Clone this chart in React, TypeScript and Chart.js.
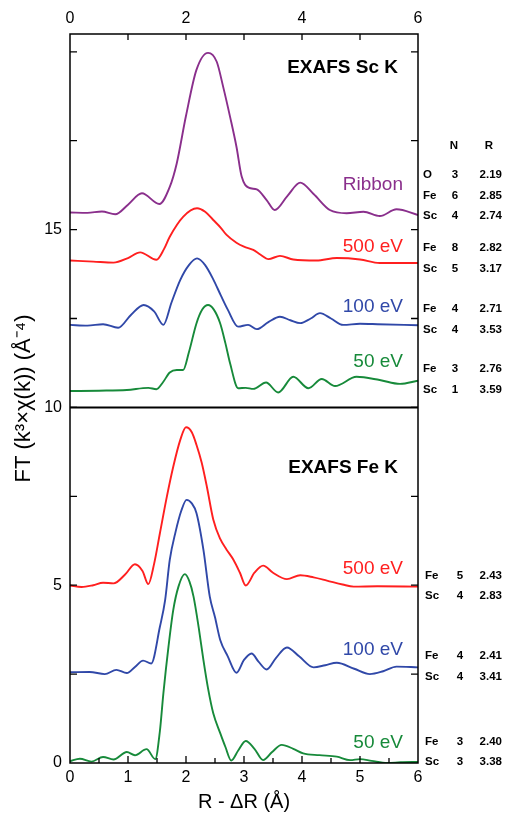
import React, { useEffect, useRef } from "react";
import { Chart, registerables } from "chart.js";

Chart.register(...registerables);

// ---------- data (R in Å, FT magnitude, vertically offset as in the figure) ----------
const scRibbonR = [0, 0.3, 0.55, 0.78, 1.0, 1.24, 1.54, 1.72, 1.84, 2.0, 2.18, 2.38, 2.53, 2.64, 2.76, 2.87, 2.96, 3.08, 3.22, 3.39, 3.53, 3.75, 3.97, 4.2, 4.48, 4.77, 5.06, 5.34, 5.63, 6.0];
const scRibbonFT = [15.48, 15.47, 15.51, 15.43, 15.7, 16.02, 15.72, 16.2, 16.86, 18.2, 19.49, 19.97, 19.72, 19.02, 18.17, 17.33, 16.49, 16.18, 16.13, 15.83, 15.55, 15.95, 16.32, 16.0, 15.55, 15.46, 15.5, 15.38, 15.57, 15.41];

const sc500R = [0, 0.4, 0.75, 1.0, 1.21, 1.49, 1.62, 1.72, 1.95, 2.19, 2.33, 2.47, 2.6, 2.7, 2.87, 3.0, 3.16, 3.28, 3.42, 3.62, 3.85, 4.25, 4.6, 5.0, 5.34, 6.0];
const sc500FT = [14.13, 14.1, 14.07, 14.2, 14.36, 14.15, 14.45, 14.8, 15.36, 15.6, 15.5, 15.27, 15.05, 14.85, 14.63, 14.52, 14.43, 14.3, 14.17, 14.26, 14.16, 14.13, 14.2, 14.16, 14.06, 14.06];

const sc100R = [0, 0.3, 0.57, 0.83, 1.05, 1.27, 1.45, 1.61, 1.75, 1.9, 2.05, 2.19, 2.33, 2.47, 2.6, 2.72, 2.9, 3.07, 3.22, 3.42, 3.62, 3.8, 3.97, 4.15, 4.31, 4.5, 4.71, 5.0, 5.3, 6.0];
const sc100FT = [12.32, 12.3, 12.34, 12.24, 12.6, 12.88, 12.7, 12.32, 12.95, 13.58, 14.0, 14.19, 14.0, 13.6, 13.15, 12.75, 12.27, 12.32, 12.2, 12.4, 12.55, 12.45, 12.37, 12.5, 12.65, 12.5, 12.32, 12.35, 12.34, 12.31];

const sc50R = [0, 0.5, 0.98, 1.35, 1.49, 1.6, 1.72, 1.84, 1.95, 2.05, 2.18, 2.28, 2.38, 2.48, 2.59, 2.68, 2.76, 2.9, 3.03, 3.16, 3.38, 3.59, 3.85, 4.11, 4.34, 4.57, 4.94, 5.34, 5.69, 6.0];
const sc50FT = [10.46, 10.47, 10.49, 10.55, 10.51, 10.7, 10.98, 11.05, 11.05, 11.55, 12.36, 12.75, 12.88, 12.75, 12.36, 11.8, 11.24, 10.54, 10.55, 10.52, 10.7, 10.42, 10.86, 10.54, 10.8, 10.6, 10.86, 10.77, 10.66, 10.75];

const fe500R = [0, 0.2, 0.4, 0.57, 0.75, 0.95, 1.12, 1.25, 1.35, 1.45, 1.55, 1.67, 1.78, 1.9, 2.0, 2.1, 2.18, 2.27, 2.36, 2.47, 2.59, 2.7, 2.82, 2.93, 3.03, 3.18, 3.33, 3.5, 3.74, 3.97, 4.2, 4.43, 4.7, 4.89, 5.3, 6.0];
const fe500FT = [4.99, 4.95, 5.0, 5.07, 5.05, 5.3, 5.59, 5.4, 5.03, 5.6, 6.46, 7.49, 8.33, 9.08, 9.44, 9.3, 8.95, 8.45, 7.77, 6.85, 6.3, 6.0, 5.71, 5.35, 4.99, 5.35, 5.55, 5.35, 5.17, 5.28, 5.22, 5.13, 5.02, 4.96, 4.97, 4.96];

const fe100R = [0, 0.34, 0.6, 0.8, 0.98, 1.12, 1.26, 1.4, 1.55, 1.64, 1.72, 1.82, 1.92, 2.01, 2.1, 2.18, 2.3, 2.41, 2.5, 2.59, 2.72, 2.87, 3.0, 3.13, 3.25, 3.39, 3.55, 3.74, 3.95, 4.2, 4.4, 4.6, 4.9, 5.17, 5.4, 5.63, 6.0];
const fe100FT = [2.55, 2.56, 2.5, 2.62, 2.53, 2.7, 2.88, 2.8, 3.83, 4.58, 5.71, 6.5, 7.1, 7.4, 7.3, 7.03, 6.0, 4.68, 4.1, 3.46, 3.0, 2.54, 2.9, 3.08, 2.85, 2.63, 2.95, 3.25, 3.0, 2.69, 2.75, 2.82, 2.65, 2.5, 2.58, 2.71, 2.69];

const fe50R = [0, 0.17, 0.37, 0.57, 0.75, 0.98, 1.12, 1.32, 1.47, 1.55, 1.61, 1.7, 1.78, 1.87, 1.98, 2.06, 2.13, 2.22, 2.3, 2.38, 2.47, 2.59, 2.68, 2.78, 2.9, 3.03, 3.18, 3.33, 3.48, 3.65, 3.85, 4.02, 4.3, 4.6, 4.83, 5.0, 5.2, 5.47, 5.7, 6.0];
const fe50FT = [0.05, 0.12, 0.04, 0.17, 0.1, 0.31, 0.22, 0.39, 0.11, 0.9, 1.96, 3.3, 4.3, 4.96, 5.31, 5.1, 4.68, 3.8, 2.9, 2.1, 1.4, 0.84, 0.45, 0.07, 0.35, 0.62, 0.4, 0.08, 0.3, 0.51, 0.4, 0.27, 0.22, 0.18, 0.08, 0.11, 0.06, 0.0, 0.02, 0.03];

// ---------- axis ticks ----------
const xBottomLabels = [0, 1, 2, 3, 4, 5, 6];
const xTopLabels = [0, 2, 4, 6];
const yLabels = [0, 5, 10, 15];
const xBottomTickMarks = [0.5, 1, 1.5, 2, 2.5, 3, 3.5, 4, 4.5, 5, 5.5];
const xTopTickMarks = [1, 2, 3, 4, 5];
const yTickMarks = [2.5, 5, 7.5, 10, 12.5, 15, 17.5, 20];
const panelDivider = 10;

// ---------- curve labels & fit tables ----------
const seriesNames = ["Ribbon", "500 eV", "100 eV", "50 eV", "500 eV", "100 eV", "50 eV"];
const panelTitles = ["EXAFS Sc K", "EXAFS Fe K"];
const tableHeader = ["N", "R"];
const shellElements = [["O", "Fe", "Sc"], ["Fe", "Sc"], ["Fe", "Sc"], ["Fe", "Sc"], ["Fe", "Sc"], ["Fe", "Sc"], ["Fe", "Sc"]];
const shellN = [["3", "6", "4"], ["8", "5"], ["4", "4"], ["3", "1"], ["5", "4"], ["4", "4"], ["3", "3"]];
const shellR = [["2.19", "2.85", "2.74"], ["2.82", "3.17"], ["2.71", "3.53"], ["2.76", "3.59"], ["2.43", "2.83"], ["2.41", "3.41"], ["2.40", "3.38"]];

const COLORS = ["#8a2f8c", "#ff1f1f", "#3048a8", "#178a3a", "#ff1f1f", "#3048a8", "#178a3a"];
const FONT = "'Liberation Sans', Arial, sans-serif";

// layout (pixel positions of annotations)
const nameY = [185, 247, 307, 362, 569, 650, 743];
const titleY = [68, 468];
const tableHeaderY = 146;
const tableRowY = [[175, 196, 216], [248, 269], [309, 330], [369, 390], [576, 596], [656, 677], [742, 762]];

const series = [
  [scRibbonR, scRibbonFT],
  [sc500R, sc500FT],
  [sc100R, sc100FT],
  [sc50R, sc50FT],
  [fe500R, fe500FT],
  [fe100R, fe100FT],
  [fe50R, fe50FT],
];

const decorPlugin = {
  id: "decor",
  afterDatasetsDraw(chart: any) {
    const { ctx, chartArea: a, scales } = chart;
    const xs = scales.x;
    const ys = scales.y;
    ctx.save();
    ctx.strokeStyle = "#000";
    ctx.lineWidth = 1.5;
    ctx.strokeRect(a.left, a.top, a.right - a.left, a.bottom - a.top);
    // divider
    ctx.lineWidth = 2;
    const yd = ys.getPixelForValue(panelDivider);
    ctx.beginPath();
    ctx.moveTo(a.left, yd);
    ctx.lineTo(a.right, yd);
    ctx.stroke();
    // ticks
    ctx.lineWidth = 1.3;
    ctx.beginPath();
    for (const v of xBottomTickMarks) {
      const px = xs.getPixelForValue(v);
      const len = Number.isInteger(v) ? 7 : 5;
      ctx.moveTo(px, a.bottom);
      ctx.lineTo(px, a.bottom - len);
    }
    for (const v of xTopTickMarks) {
      const px = xs.getPixelForValue(v);
      ctx.moveTo(px, a.top);
      ctx.lineTo(px, a.top + 6);
    }
    for (const v of yTickMarks) {
      const py = ys.getPixelForValue(v);
      ctx.moveTo(a.left, py);
      ctx.lineTo(a.left + 7, py);
      ctx.moveTo(a.right, py);
      ctx.lineTo(a.right - 7, py);
    }
    ctx.stroke();

    // series labels
    ctx.textBaseline = "middle";
    ctx.textAlign = "right";
    ctx.font = `19px ${FONT}`;
    seriesNames.forEach((n, i) => {
      ctx.fillStyle = COLORS[i];
      ctx.fillText(n, 403, nameY[i]);
    });
    ctx.fillStyle = "#000";
    ctx.font = `bold 19px ${FONT}`;
    panelTitles.forEach((t, i) => ctx.fillText(t, 398, titleY[i]));

    // tables
    ctx.font = `bold 11.5px ${FONT}`;
    ctx.textAlign = "center";
    ctx.fillText(tableHeader[0], 454, tableHeaderY);
    ctx.fillText(tableHeader[1], 489, tableHeaderY);
    shellElements.forEach((els, g) => {
      const bottom = g >= 4;
      els.forEach((el, r) => {
        const y = tableRowY[g][r];
        ctx.textAlign = "left";
        ctx.fillText(el, bottom ? 425 : 423, y);
        ctx.textAlign = "center";
        ctx.fillText(shellN[g][r], bottom ? 460 : 455, y);
        ctx.textAlign = "right";
        ctx.fillText(shellR[g][r], 502, y);
      });
    });
    ctx.restore();
  },
};

export default function App() {
  const ref = useRef<HTMLCanvasElement | null>(null);
  useEffect(() => {
    if (!ref.current) return;
    const chart = new Chart(ref.current, {
      type: "line",
      data: {
        datasets: series.map(([r, ft], i) => ({
          label: seriesNames[i],
          data: r.map((x, k) => ({ x, y: ft[k] })),
          borderColor: COLORS[i],
          borderWidth: 1.9,
          pointRadius: 0,
          fill: false,
          cubicInterpolationMode: "monotone" as const,
        })),
      },
      options: {
        responsive: false,
        animation: false,
        layout: { padding: { left: 0, top: 0, bottom: 0, right: 88 } },
        plugins: { legend: { display: false }, tooltip: { enabled: false } },
        scales: {
          x: {
            type: "linear",
            position: "bottom",
            min: 0,
            max: 6,
            grid: { display: false, drawTicks: false },
            border: { display: false },
            afterBuildTicks: (s: any) => {
              s.ticks = xBottomLabels.map((v) => ({ value: v }));
            },
            ticks: { color: "#000", font: { size: 16, family: FONT }, padding: 5, maxRotation: 0, autoSkip: false },
            title: { display: true, text: "R - ΔR (Å)", color: "#000", font: { size: 20, family: FONT }, padding: { top: 0, bottom: 0 } },
            afterFit: (s: any) => {
              s.height = 51;
              s.paddingLeft = 0;
              s.paddingRight = 0;
            },
          },
          x2: {
            type: "linear",
            axis: "x",
            position: "top",
            min: 0,
            max: 6,
            grid: { display: false, drawTicks: false },
            border: { display: false },
            afterBuildTicks: (s: any) => {
              s.ticks = xTopLabels.map((v) => ({ value: v }));
            },
            ticks: { color: "#000", font: { size: 16, family: FONT }, padding: 6, maxRotation: 0, autoSkip: false },
            afterFit: (s: any) => {
              s.height = 34;
              s.paddingLeft = 0;
              s.paddingRight = 0;
            },
          },
          y: {
            type: "linear",
            position: "left",
            min: 0,
            max: 20.5,
            grid: { display: false, drawTicks: false },
            border: { display: false },
            afterBuildTicks: (s: any) => {
              s.ticks = yLabels.map((v) => ({ value: v }));
            },
            ticks: { color: "#000", font: { size: 16, family: FONT }, padding: 8 },
            title: { display: true, text: "FT (k³×χ(k)) (Å⁻⁴)", color: "#000", font: { size: 22, family: FONT }, padding: { top: 11, bottom: 0 } },
            afterFit: (s: any) => {
              s.width = 70;
              s.paddingTop = 0;
              s.paddingBottom = 0;
            },
          },
        },
      },
      plugins: [decorPlugin],
    } as any);
    return () => chart.destroy();
  }, []);
  return (
    <div style={{ position: "absolute", left: 0, top: 0, width: 506, height: 814, background: "#fff" }}>
      <canvas ref={ref} width={506} height={814} style={{ display: "block" }} />
    </div>
  );
}
